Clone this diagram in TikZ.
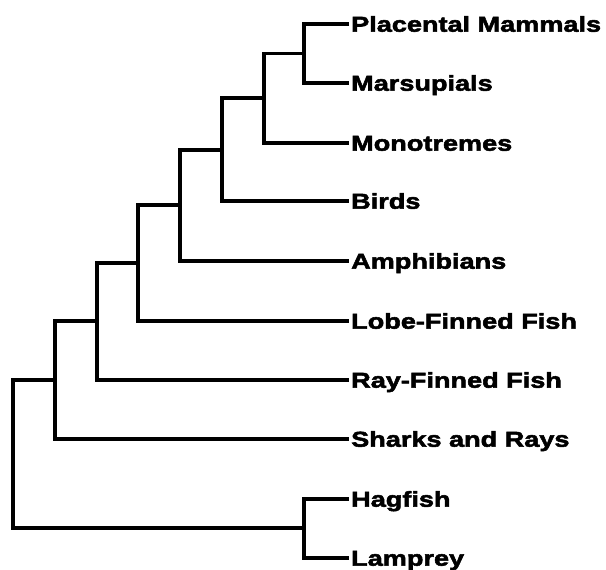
\documentclass[tikz,border=0pt]{standalone}
\usepackage{fontspec}
\usepackage{tikz}
\newfontfamily\cladefont[FakeStretch=1.26,FakeBold=2.5]{Liberation Sans Bold}

\begin{document}
\begin{tikzpicture}[x=1pt, y=-1pt,
        taxon/.style={anchor=west, inner xsep=2pt, inner ysep=0pt, text height=15.4pt, text depth=0pt, font=\cladefont\fontsize{21.5}{24}\selectfont},
        branch/.style={line width=3.2pt}]
    \useasboundingbox (0,0) rectangle (606,570);

    % leaves
    \node[taxon] (placental) at (349,24) {Placental Mammals};
    \node[taxon] (marsupials) at (349,83) {Marsupials};
    \node[taxon] (monotremes) at (349,143) {Monotremes};
    \node[taxon] (birds) at (349,201) {Birds};
    \node[taxon] (amphibians) at (349,261) {Amphibians};
    \node[taxon] (lobefin) at (349,321) {Lobe-Finned Fish};
    \node[taxon] (rayfin) at (349,380) {Ray-Finned Fish};
    \node[taxon] (sharks) at (349,439) {Sharks and Rays};
    \node[taxon] (hagfish) at (349,499) {Hagfish};
    \node[taxon] (lamprey) at (349,558) {Lamprey};

    % branch points
    \coordinate (mammals) at (304,53.5);
    \coordinate (mammalia) at (264,98);
    \coordinate (amniotes) at (222,150);
    \coordinate (tetrapods) at (180,205);
    \coordinate (sarcopt) at (138,263);
    \coordinate (bonyfish) at (97,321);
    \coordinate (gnathost) at (55,380);
    \coordinate (cyclost) at (304,528);
    \coordinate (root) at (13,454);

    \draw[branch] (placental.west) -| (mammals) |- (marsupials.west);
    \draw[branch] (mammals) -| (mammalia) |- (monotremes.west);
    \draw[branch] (mammalia) -| (amniotes) |- (birds.west);
    \draw[branch] (amniotes) -| (tetrapods) |- (amphibians.west);
    \draw[branch] (tetrapods) -| (sarcopt) |- (lobefin.west);
    \draw[branch] (sarcopt) -| (bonyfish) |- (rayfin.west);
    \draw[branch] (bonyfish) -| (gnathost) |- (sharks.west);
    \draw[branch] (hagfish.west) -| (cyclost) |- (lamprey.west);
    \draw[branch] (gnathost) -| (root) |- (cyclost);
\end{tikzpicture}
\end{document}
